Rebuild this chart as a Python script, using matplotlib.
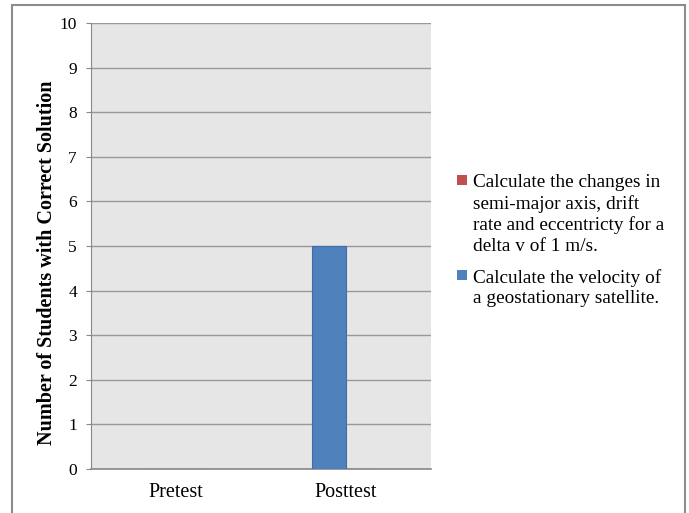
import matplotlib.pyplot as plt
from matplotlib.patches import Rectangle

categories = ["Pretest", "Posttest"]
velocity_counts = [0, 5]
drift_counts = [0, 0]
labels = [
    "Calculate the changes in\nsemi-major axis, drift\nrate and eccentricty for a\ndelta v of 1 m/s.",
    "Calculate the velocity of\na geostationary satellite.",
]
yticks = list(range(0, 11))

plt.rcParams['font.family'] = ['Liberation Serif', 'DejaVu Serif']

fig = plt.figure(figsize=(6.89, 5.13), dpi=100)
ax = fig.add_axes([0.1321, 0.0858, 0.4935, 0.8694])
ax.set_facecolor('#e6e6e6')

x = list(range(len(categories)))
w = 0.2
b_vel = ax.bar([i - w / 2 for i in x], velocity_counts, w, color='#4f81bd',
               edgecolor='#3e6ea8', linewidth=0.8, zorder=3)
b_drift = ax.bar([i + w / 2 for i in x], drift_counts, w, color='#c0504d',
                 edgecolor='#a8403d', linewidth=0.8, zorder=3)

ax.set_xlim(-0.5, 1.5)
ax.set_ylim(0, 10)
ax.set_yticks(yticks)
ax.set_xticks(x)
ax.set_xticklabels(categories, fontsize=14.5)
ax.tick_params(axis='x', length=0, pad=10)
ax.tick_params(axis='y', labelsize=12.5, length=3.6, color='#888888', pad=6.5)
ax.grid(axis='y', color='#999999', linewidth=1, zorder=1)
for s in ['top', 'right']:
    ax.spines[s].set_visible(False)
ax.spines['left'].set_color('#888888')
ax.spines['bottom'].set_color('#888888')
ax.spines['bottom'].set_linewidth(1.2)

fig.text(0.0685, 0.487, "Number of Students with Correct Solution", rotation=90,
         ha='center', va='center', fontsize=14.5, fontweight='bold')

# legend drawn by hand so the swatch sits beside the first text line
entries = [(b_drift.patches[0].get_facecolor(), labels[0], 180),
           (b_vel.patches[0].get_facecolor(), labels[1], 275)]
for color, text, ypx in entries:
    fig.patches.append(Rectangle((457 / 689, 1 - (ypx + 5) / 513), 10 / 689, 10 / 513,
                                 transform=fig.transFigure, facecolor=color,
                                 edgecolor='none'))
    fig.text(473 / 689, 1 - (ypx - 6) / 513, text, ha='left', va='top',
             fontsize=13.9, linespacing=1.27)

# outer chart border
fig.patches.append(Rectangle((12 / 689, -0.05), 673 / 689, 1.05 - 5 / 513,
                             transform=fig.transFigure, fill=False,
                             edgecolor='#8c8c8c', linewidth=1.5))

fig.savefig("out.png", dpi=100)
